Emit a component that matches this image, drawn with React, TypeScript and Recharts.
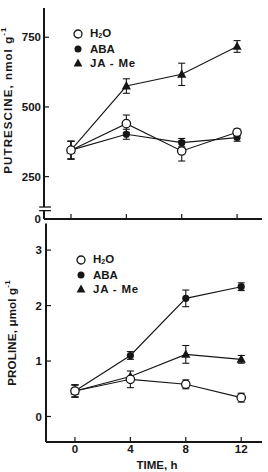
import React from "react";
import {
  ComposedChart,
  Line,
  XAxis,
  YAxis,
  ErrorBar,
  ReferenceLine,
  Legend,
} from "recharts";

// --- Data: time course after treatment (h) ---
const hours = [0, 4, 8, 12];

// Putrescine, nmol g-1
const putH2O = [345, 440, 342, 409];
const putH2OErr = [32, 31, 36, 12];
const putABA = [345, 402, 372, 390];
const putABAErr = [32, 18, 15, 13];
const putJA = [345, 575, 617, 717];
const putJAErr = [32, 26, 40, 21];

// Proline, umol g-1
const proH2O = [0.46, 0.67, 0.58, 0.34];
const proH2OErr = [0.11, 0.15, 0.08, 0.08];
const proABA = [0.46, 1.1, 2.13, 2.34];
const proABAErr = [0.11, 0.07, 0.15, 0.07];
const proJA = [0.46, 0.72, 1.12, 1.03];
const proJAErr = [0.11, 0, 0.16, 0.07];

const putTicks = [98, 250, 500, 750]; // lowest tick sits under the axis break, shown as 0
const proTicks = [0, 1, 2, 3];

const FONT = '"Liberation Sans", Arial, Helvetica, sans-serif';
const INK = "#161616";

const putData = hours.map((h, i) => ({
  h,
  h2o: putH2O[i],
  h2oErr: putH2OErr[i],
  aba: putABA[i],
  abaErr: putABAErr[i],
  ja: putJA[i],
  jaErr: putJAErr[i],
}));

const proData = hours.map((h, i) => ({
  h,
  h2o: proH2O[i],
  h2oErr: proH2OErr[i],
  aba: proABA[i],
  abaErr: proABAErr[i],
  ja: proJA[i],
  jaErr: proJAErr[i],
}));

// --- Markers ---
const openDot = (p: any) =>
  p.cx == null ? <g key={p.key} /> : (
    <circle key={p.key} cx={p.cx} cy={p.cy} r={4.2} fill="#fff" stroke={INK} strokeWidth={1.3} />
  );
const filledDot = (p: any) =>
  p.cx == null ? <g key={p.key} /> : <circle key={p.key} cx={p.cx} cy={p.cy} r={3.6} fill={INK} />;
const triDot = (p: any) =>
  p.cx == null ? <g key={p.key} /> : (
    <polygon
      key={p.key}
      points={`${p.cx},${p.cy - 5} ${p.cx - 4.6},${p.cy + 3.4} ${p.cx + 4.6},${p.cy + 3.4}`}
      fill={INK}
    />
  );

// --- Ticks drawn inside the frame ---
const makeYTick = (margin: number, fmt: (v: number) => string, noLineAt?: number) => (p: any) => {
  const ax = p.x + margin;
  const v = p.payload.value;
  return (
    <g>
      {v !== noLineAt && <line x1={ax} x2={ax + 5} y1={p.y} y2={p.y} stroke={INK} strokeWidth={1.2} />}
      <text x={p.x} y={p.y} dy="0.36em" textAnchor="end" fontFamily={FONT} fontWeight={700} fontSize={11.5} fill={INK}>
        {fmt(v)}
      </text>
    </g>
  );
};

const makeXTick = (margin: number, showLabel: boolean) => (p: any) => {
  const ay = p.y - margin;
  return (
    <g>
      <line x1={p.x} x2={p.x} y1={ay} y2={ay - 5} stroke={INK} strokeWidth={1.2} />
      {showLabel && (
        <text x={p.x} y={p.y} dy="0.71em" textAnchor="middle" fontFamily={FONT} fontWeight={700} fontSize={11.5} fill={INK}>
          {p.payload.value}
        </text>
      )}
    </g>
  );
};

// --- Rotated axis titles ---
const vTitle = (cx: number, cy: number, main: string, spacing: number) => () => (
  <text
    x={cx}
    y={cy}
    transform={`rotate(-90 ${cx} ${cy})`}
    textAnchor="middle"
    dominantBaseline="central"
    fontFamily={FONT}
    fontWeight={700}
    fontSize={11.5}
    letterSpacing={spacing}
    fill={INK}
  >
    {main}
    <tspan fontSize={8} dy={-5}>-1</tspan>
  </text>
);

const timeTitle = () => (
  <text x={157} y={243} textAnchor="middle" dominantBaseline="central" fontFamily={FONT} fontWeight={700} fontSize={11.5} fill={INK}>
    TIME, h
  </text>
);

// --- Legend ---
const legendIcons = [
  <circle cx={5} cy={5} r={4} fill="#fff" stroke={INK} strokeWidth={1.3} />,
  <circle cx={5} cy={5} r={3.5} fill={INK} />,
  <polygon points="5,0.5 0.6,8.6 9.4,8.6" fill={INK} />,
];
const legendNames = [
  <span>
    H<sub style={{ fontSize: 7, verticalAlign: "-1px" }}>2</sub>O
  </span>,
  <span>ABA</span>,
  <span style={{ letterSpacing: 0.8 }}>JA - Me</span>,
];

const LegendBox = () => (
  <div style={{ fontFamily: FONT, fontWeight: 700, fontSize: 11.5, color: INK, lineHeight: "14.5px" }}>
    {legendNames.map((name, i) => (
      <div key={i} style={{ display: "flex", alignItems: "center", height: 14.5 }}>
        <svg width={10} height={10} style={{ marginRight: 7 }}>
          {legendIcons[i]}
        </svg>
        {name}
      </div>
    ))}
  </div>
);

const putXDomain = [-1.95, 13.8];
const proXDomain = [-2.09, 13.5];

export default function App() {
  return (
    <div style={{ position: "absolute", left: 0, top: 0, width: 268, height: 472, background: "#fff" }}>
      {/* Proline panel (placed first so the upper panel's "0" stays on top) */}
      <div style={{ position: "absolute", left: 0, top: 222 }}>
        <ComposedChart width={268} height={250} data={proData} margin={{ top: 1.5, right: 6, bottom: 0, left: 0 }}>
          <XAxis
            dataKey="h"
            type="number"
            domain={proXDomain}
            ticks={hours}
            interval={0}
            height={30}
            tickSize={0}
            tickMargin={3}
            tick={makeXTick(3, true)}
            axisLine={{ stroke: INK, strokeWidth: 2 }}
            allowDataOverflow
            label={{ content: timeTitle }}
          />
          <XAxis xAxisId="top" orientation="top" type="number" domain={proXDomain} height={0} tick={false} tickLine={false} axisLine={{ stroke: INK, strokeWidth: 2 }} />
          <YAxis
            type="number"
            domain={[-0.46, 3.48]}
            ticks={proTicks}
            interval={0}
            width={46}
            tickSize={0}
            tickMargin={4}
            tick={makeYTick(4, (v) => String(v))}
            axisLine={{ stroke: INK, strokeWidth: 2 }}
            allowDataOverflow
            label={{ content: vTitle(11.5, 111, "PROLINE, μmol g", 0.2) }}
          />
          <YAxis yAxisId="right" orientation="right" type="number" domain={[-0.46, 3.48]} width={0} tick={false} tickLine={false} axisLine={{ stroke: INK, strokeWidth: 2 }} />

          <Legend layout="vertical" verticalAlign="middle" align="center" content={<LegendBox />} wrapperStyle={{ left: 76, top: 31, width: "auto" }} />

          <Line dataKey="ja" stroke={INK} strokeWidth={1.1} dot={triDot} activeDot={false} isAnimationActive={false}>
            <ErrorBar dataKey="jaErr" direction="y" width={3.5} stroke={INK} strokeWidth={1.1} isAnimationActive={false} />
          </Line>
          <Line dataKey="aba" stroke={INK} strokeWidth={1.1} dot={filledDot} activeDot={false} isAnimationActive={false}>
            <ErrorBar dataKey="abaErr" direction="y" width={3.5} stroke={INK} strokeWidth={1.1} isAnimationActive={false} />
          </Line>
          <Line dataKey="h2o" stroke={INK} strokeWidth={1.1} dot={openDot} activeDot={false} isAnimationActive={false}>
            <ErrorBar dataKey="h2oErr" direction="y" width={3.5} stroke={INK} strokeWidth={1.1} isAnimationActive={false} />
          </Line>
        </ComposedChart>
      </div>

      {/* Putrescine panel */}
      <div style={{ position: "absolute", left: 0, top: 0 }}>
        <ComposedChart width={268} height={228} data={putData} margin={{ top: 8, right: 6, bottom: 6, left: 0 }}>
          <XAxis
            dataKey="h"
            type="number"
            domain={putXDomain}
            ticks={hours}
            interval={0}
            height={3}
            tickSize={0}
            tickMargin={0}
            tick={makeXTick(0, false)}
            axisLine={{ stroke: INK, strokeWidth: 2 }}
            allowDataOverflow
          />
          <XAxis xAxisId="top" orientation="top" type="number" domain={putXDomain} height={0} tick={false} tickLine={false} axisLine={{ stroke: INK, strokeWidth: 2 }} />
          <YAxis
            type="number"
            domain={[98, 855]}
            ticks={putTicks}
            interval={0}
            width={44}
            tickSize={0}
            tickMargin={3}
            tick={makeYTick(3, (v) => (v < 200 ? "0" : String(v)), 98)}
            axisLine={false}
            allowDataOverflow
            label={{ content: vTitle(8, 100, "PUTRESCINE, nmol g", 1.1) }}
          />
          <YAxis yAxisId="right" orientation="right" type="number" domain={[98, 855]} width={0} tick={false} tickLine={false} axisLine={{ stroke: INK, strokeWidth: 2 }} />

          {/* left spine with axis break */}
          <ReferenceLine segment={[{ x: putXDomain[0], y: 855 }, { x: putXDomain[0], y: 141 }]} stroke={INK} strokeWidth={2} ifOverflow="visible" />
          <ReferenceLine segment={[{ x: putXDomain[0], y: 128 }, { x: putXDomain[0], y: 98 }]} stroke={INK} strokeWidth={2} ifOverflow="visible" />
          <ReferenceLine segment={[{ x: -2.3, y: 141 }, { x: -1.45, y: 141 }]} stroke={INK} strokeWidth={1.3} ifOverflow="visible" />
          <ReferenceLine segment={[{ x: -2.3, y: 128 }, { x: -1.45, y: 128 }]} stroke={INK} strokeWidth={1.3} ifOverflow="visible" />

          <Legend layout="vertical" verticalAlign="middle" align="center" content={<LegendBox />} wrapperStyle={{ left: 73, top: 27, width: "auto" }} />

          <Line dataKey="ja" stroke={INK} strokeWidth={1.1} dot={triDot} activeDot={false} isAnimationActive={false}>
            <ErrorBar dataKey="jaErr" direction="y" width={3.5} stroke={INK} strokeWidth={1.1} isAnimationActive={false} />
          </Line>
          <Line dataKey="aba" stroke={INK} strokeWidth={1.1} dot={filledDot} activeDot={false} isAnimationActive={false}>
            <ErrorBar dataKey="abaErr" direction="y" width={3.5} stroke={INK} strokeWidth={1.1} isAnimationActive={false} />
          </Line>
          <Line dataKey="h2o" stroke={INK} strokeWidth={1.1} dot={openDot} activeDot={false} isAnimationActive={false}>
            <ErrorBar dataKey="h2oErr" direction="y" width={3.5} stroke={INK} strokeWidth={1.1} isAnimationActive={false} />
          </Line>
        </ComposedChart>
      </div>
    </div>
  );
}
